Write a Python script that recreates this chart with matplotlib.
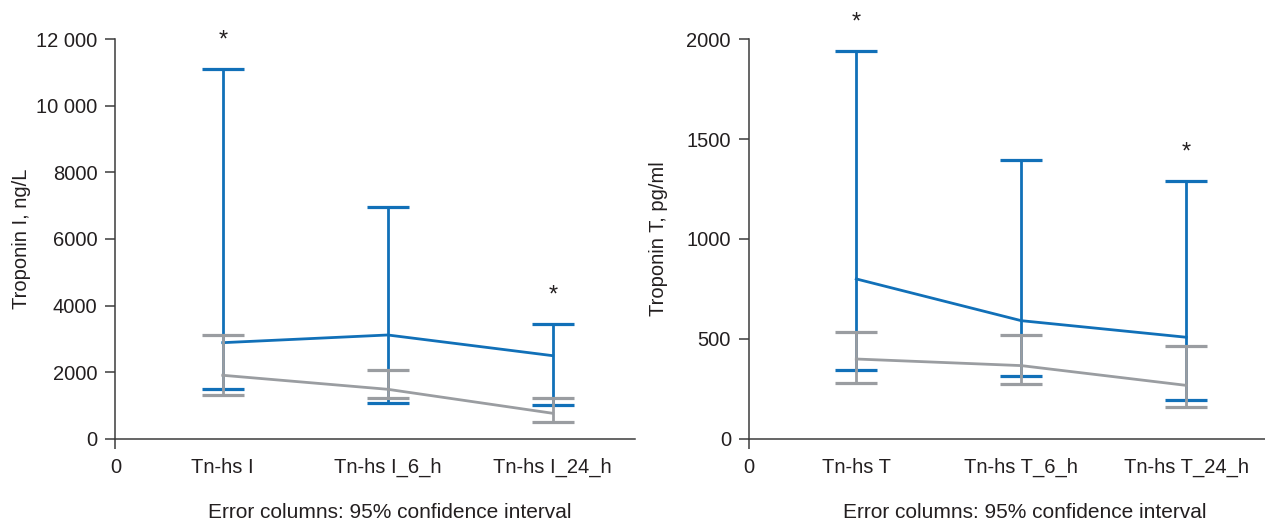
import matplotlib

matplotlib.use("Agg")

import matplotlib.pyplot as plt
import numpy as np

# ---- data ----------------------------------------------------------------- #
cats_i = ["Tn-hs I", "Tn-hs I_6_h", "Tn-hs I_24_h"]
i_blue_mean = [2885, 3116, 2494]
i_blue_lo = [1494, 1064, 1013]
i_blue_hi = [11110, 6954, 3447]
i_gray_mean = [1905, 1484, 763]
i_gray_lo = [1322, 1223, 511]
i_gray_hi = [3116, 2055, 1232]
i_star = [0, 2]          # categories marked with *

cats_t = ["Tn-hs T", "Tn-hs T_6_h", "Tn-hs T_24_h"]
t_blue_mean = [800, 591, 508]
t_blue_lo = [344, 314, 192]
t_blue_hi = [1943, 1394, 1292]
t_gray_mean = [399, 366, 267]
t_gray_lo = [280, 276, 160]
t_gray_hi = [533, 519, 466]
t_star = [0, 2]

BLUE = "#1170B8"
GRAY = "#9A9DA1"
AXC = "#3C3C3C"
TXT = "#231F20"
FS = 14.5

plt.rcParams.update({
    "font.family": ["Liberation Sans", "DejaVu Sans"],
    "font.size": FS,
})

POS = np.array([0.65, 1.65, 2.65])  # category positions (unit = 165 px)


def _fmt(v):
    return f"{v:,}".replace(",", " ") if v >= 10000 else str(v)


def panel(ax, cats, series, stars, yticks, ylabel, xmax):
    for mean, lo, hi, color, z in series:
        mean = np.asarray(mean)
        err = [mean - np.asarray(lo), np.asarray(hi) - mean]
        ax.errorbar(POS, mean, yerr=err, color=color, lw=2.0, elinewidth=2.0,
                    capsize=15, capthick=2.3, zorder=z)
    blue_hi = series[0][2]
    for k in stars:
        ax.annotate("*", xy=(POS[k], blue_hi[k]), xytext=(0, 16),
                    textcoords="offset points", ha="center", va="baseline",
                    fontsize=17, color=TXT, annotation_clip=False)

    ax.set_xlim(0, xmax)
    ax.set_ylim(0, yticks[-1])
    ax.set_yticks(yticks, [_fmt(v) for v in yticks])
    ax.set_xticks(np.r_[0, POS], ["0"] + cats)
    for t in ax.xaxis.get_major_ticks()[1:]:
        t.tick1line.set_visible(False)
    ax.tick_params(axis="both", direction="out", length=7, width=1.1,
                   color=AXC, labelcolor=TXT, labelsize=FS)
    ax.tick_params(axis="x", pad=7)
    ax.tick_params(axis="y", pad=6)
    for s in ("top", "right"):
        ax.spines[s].set_visible(False)
    for s in ("left", "bottom"):
        ax.spines[s].set_color(AXC)
        ax.spines[s].set_linewidth(1.1)
    ax.set_ylabel(ylabel, fontsize=FS, color=TXT)
    ax.set_xlabel("Error columns: 95% confidence interval", fontsize=15,
                  color=TXT, va="center")


fig = plt.figure(figsize=(12.65, 5.24), dpi=100)
axl = fig.add_axes([0.0913, 0.1628, 0.4107, 0.7622])
axr = fig.add_axes([0.5921, 0.1628, 0.4079, 0.7622])

panel(axl, cats_i,
      [(i_blue_mean, i_blue_lo, i_blue_hi, BLUE, 2),
       (i_gray_mean, i_gray_lo, i_gray_hi, GRAY, 3)],
      i_star, list(range(0, 12001, 2000)), "Troponin I, ng/L", 519.5 / 165)
panel(axr, cats_t,
      [(t_blue_mean, t_blue_lo, t_blue_hi, BLUE, 2),
       (t_gray_mean, t_gray_lo, t_gray_hi, GRAY, 3)],
      t_star, list(range(0, 2001, 500)), "Troponin T, pg/ml", 516 / 165)

axl.yaxis.set_label_coords(-0.163, 0.5)
axr.yaxis.set_label_coords(-0.157, 0.5)
axl.xaxis.set_label_coords(0.528, -0.185)
axr.xaxis.set_label_coords(0.535, -0.185)

fig.savefig("out.png", dpi=100)
